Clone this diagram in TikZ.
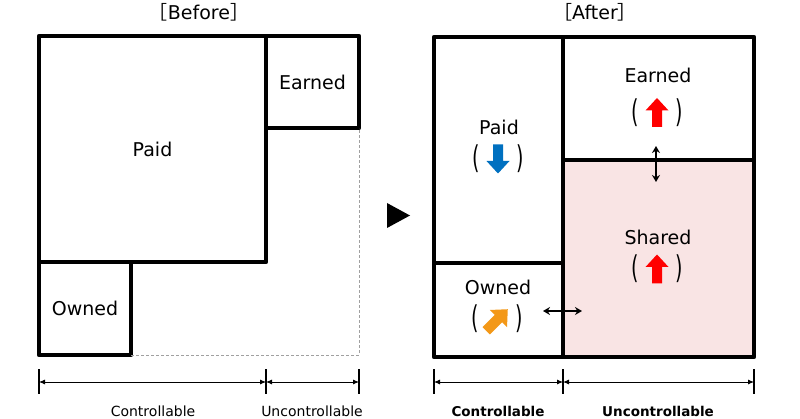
\documentclass[tikz,border=0pt]{standalone}
\usepackage{fontspec}
\setmainfont{DejaVu Sans}
\newfontfamily\cjkfont{Noto Sans CJK JP}
\usetikzlibrary{arrows.meta}
\definecolor{sharedpink}{RGB}{249,228,228}
\definecolor{paidblue}{RGB}{0,112,192}
\definecolor{ownedorange}{RGB}{243,152,24}
\definecolor{dashgray}{RGB}{160,160,160}
\newcommand{\lbrk}{\scalebox{1}[1.65]{(}}
\newcommand{\rbrk}{\scalebox{1}[1.65]{)}}
\tikzset{
  box/.style={draw,line width=4.5pt,rectangle,inner sep=0pt,outer sep=0pt,line join=round,font=\fontsize{19}{22}\selectfont},
  lbl/.style={inner sep=0pt,font=\fontsize{19}{22}\selectfont},
  dimlbl/.style={inner sep=0pt,font=\fontsize{14}{16}\selectfont},
  brk/.style={inner sep=0pt,font=\fontsize{19}{22}\selectfont},
  dimline/.style={{Latex[length=6pt,width=5pt]}-{Latex[length=6pt,width=5pt]},line width=0.9pt},
  dimtick/.style={line width=1.5pt},
  swap/.style={{Stealth[length=7pt,width=8pt]}-{Stealth[length=7pt,width=8pt]},line width=1.6pt},
  pics/blockarrow/.style={code={\fill (0,-14.5) -- (11.5,-2) -- (5,-2) -- (5,14.5) -- (-5,14.5) -- (-5,-2) -- (-11.5,-2) -- cycle;}}
}
\begin{document}
\begin{tikzpicture}[x=1pt,y=-1pt]
	\useasboundingbox (0,0) rectangle (800,419);
	
	% Before
	\node[lbl] (titleB) at (199,12) {{\cjkfont ［}Before{\cjkfont ］}};
	\coordinate (cornerB) at (359,355);
	\node[box,minimum width=227pt,minimum height=226pt] (paidB) at (152.5,149) {Paid};
	\node[box,minimum width=93pt,minimum height=92pt] (earnedB) at (312.5,82) {Earned};
	\node[box,minimum width=92pt,minimum height=93pt] (ownedB) at (85,308.5) {Owned};
	\draw[dashgray,line width=0.9pt,dash pattern=on 3pt off 2pt] (ownedB.south east) -- (cornerB) -- (earnedB.south east);
	
	\fill (387,203) -- (410,215.5) -- (387,228) -- cycle;
	
	% After
	\node[lbl] (titleA) at (595,12) {{\cjkfont ［}After{\cjkfont ］}};
	\fill[sharedpink] (563,160) rectangle (754,357);
	\node[box,minimum width=129pt,minimum height=226pt] (paidA) at (498.5,150) {};
	\node[box,minimum width=129pt,minimum height=94pt] (ownedA) at (498.5,310) {};
	\node[box,minimum width=191pt,minimum height=123pt] (earnedA) at (658.5,98.5) {};
	\node[box,minimum width=191pt,minimum height=197pt] (sharedA) at (658.5,258.5) {};
	
	\node[lbl] (paidT) at (499,127) {Paid};
	\node[lbl] (ownedT) at (498,287) {Owned};
	\node[lbl] (earnedT) at (658,75) {Earned};
	\node[lbl] (sharedT) at (658,237) {Shared};
	
	\pic[paidblue,rotate=180] at (498,159) {blockarrow};
	\pic[red] at (657,112.5) {blockarrow};
	\pic[red] at (657,269) {blockarrow};
	\pic[ownedorange,rotate=-45,scale=1.05] at (497,320) {blockarrow};
	\foreach \cx/\cy/\n in {498/159/paid,657/112.5/earned,657/269/shared,497/319/owned}{
		\node[brk] (\n L) at (\cx-22,\cy) {\lbrk};
		\node[brk] (\n R) at (\cx+22,\cy) {\rbrk};
	}
	
	\coordinate (vTop) at (656,146);
	\coordinate (vBot) at (656,182);
	\coordinate (hLeft) at (543,311);
	\coordinate (hRight) at (582,311);
	\draw[swap] (vTop) -- (vBot);
	\draw[swap] (hLeft) -- (hRight);
	
	% dimensions
	\foreach \x/\n in {39/tB1,266/tB2,359/tB3,434/tA1,563/tA2,754/tA3}{
		\coordinate (\n) at (\x,382);
		\draw[dimtick] (\x,369) -- (\x,394);
	}
	\draw[dimline] (tB1) -- (tB2);
	\draw[dimline] (tB2) -- (tB3);
	\draw[dimline] (tA1) -- (tA2);
	\draw[dimline] (tA2) -- (tA3);
	\node[dimlbl] (ctrlB) at (153,411) {Controllable};
	\node[dimlbl] (unctrlB) at (312,411) {Uncontrollable};
	\node[dimlbl,font=\fontsize{13.5}{16}\selectfont\bfseries] (ctrlA) at (498,411) {Controllable};
	\node[dimlbl,font=\fontsize{13.5}{16}\selectfont\bfseries] (unctrlA) at (658,411) {Uncontrollable};
\end{tikzpicture}
\end{document}
